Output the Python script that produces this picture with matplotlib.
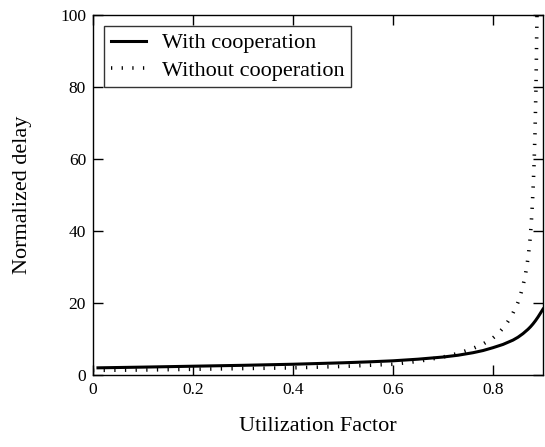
import matplotlib
matplotlib.use("Agg")
import matplotlib.pyplot as plt

plt.rcParams["font.family"] = ["Liberation Serif", "DejaVu Serif"]

# utilization factor vs normalized delay
rho_coop = [0.01, 0.1, 0.2, 0.3, 0.4, 0.5, 0.55, 0.6, 0.65, 0.7, 0.73, 0.76,
            0.78, 0.8, 0.82, 0.84, 0.85, 0.86, 0.87, 0.875, 0.88, 0.885, 0.89,
            0.895, 0.9]
delay_coop = [2.0, 2.2, 2.45, 2.7, 3.0, 3.4, 3.65, 3.95, 4.4, 5.0, 5.5, 6.2,
              6.8, 7.6, 8.5, 9.7, 10.5, 11.5, 12.7, 13.4, 14.2, 15.1, 16.1,
              17.2, 18.3]

rho_nocoop = [0.0, 0.1, 0.2, 0.3, 0.4, 0.5, 0.55, 0.6, 0.65, 0.7, 0.73, 0.76,
              0.78, 0.8, 0.81, 0.82, 0.83, 0.84, 0.85, 0.855, 0.86, 0.865, 0.868,
              0.871, 0.874, 0.876, 0.878, 0.88, 0.882, 0.884, 0.886, 0.888]
delay_nocoop = [1.3, 1.4, 1.6, 1.8, 2.0, 2.4, 2.7, 3.0, 3.8, 5.0, 6.0, 7.4,
                8.6, 10.3, 11.5, 13.0, 14.9, 17.2, 20.2, 22.2, 24.8, 28.0, 30.5,
                33.5, 37.5, 41.0, 45.5, 51.0, 58.0, 67.0, 80.0, 100.0]

fig = plt.figure(figsize=(5.45, 4.47), dpi=100)
ax = fig.add_axes([0.1706, 0.161, 0.8257, 0.8054])

ax.plot(rho_coop, delay_coop, color="black", lw=2.2, label="With cooperation")
ax.plot(rho_nocoop, delay_nocoop, color="black", lw=2.6,
        linestyle=(0, (0.35, 2.6)), dash_capstyle="butt",
        label="Without cooperation")

ax.set_xlim(0, 0.9)
ax.set_ylim(0, 100)
ax.set_xticks([0, 0.2, 0.4, 0.6, 0.8])
ax.set_xticklabels(["0", "0.2", "0.4", "0.6", "0.8"])
ax.set_yticks([0, 20, 40, 60, 80, 100])
ax.tick_params(direction="in", length=7, width=1, labelsize=12.5,
               top=True, right=True, pad=5)
for s in ax.spines.values():
    s.set_linewidth(1)

ax.set_xlabel("Utilization Factor", fontsize=16, labelpad=14)
ax.set_ylabel("Normalized delay", fontsize=16, labelpad=20)

leg = ax.legend(loc="upper left", fontsize=16, frameon=True, fancybox=False,
                edgecolor="black", handlelength=1.6, borderpad=0.3,
                labelspacing=0.3, handletextpad=0.7,
                bbox_to_anchor=(0.0, 1.0), borderaxespad=0.5)
leg.get_frame().set_linewidth(1)

fig.savefig("out.png", dpi=100)
